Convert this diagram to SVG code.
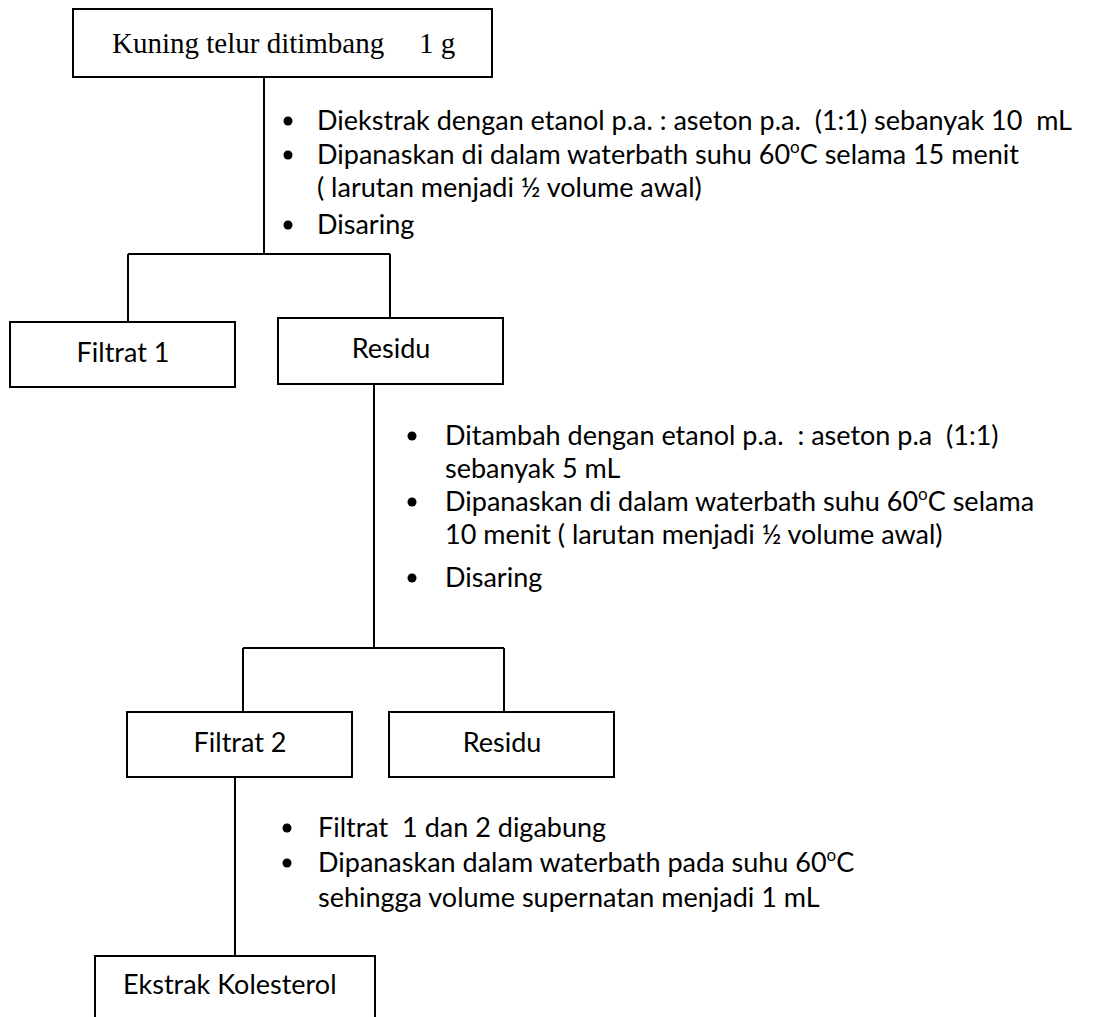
<svg xmlns="http://www.w3.org/2000/svg" width="1098" height="1017" viewBox="0 0 1098 1017">
<style>
.box{fill:#fff;stroke:#000;stroke-width:2}
.ln{fill:none;stroke:#000;stroke-width:2}
.t{font-family:Lato,"Liberation Sans",sans-serif;font-size:27px;fill:#000;white-space:pre}
.tm{font-family:"Liberation Serif","Times New Roman",serif;font-size:29px;fill:#000;white-space:pre}
.dot{fill:#000}
.sup{font-size:17px}
</style>
<rect width="1098" height="1017" fill="#fff"/>
<g id="connectors">
<path class="ln" d="M264,77 V254 M128,254 H390 M128,254 V322 M390,254 V318"/>
<path class="ln" d="M374,384 V648 M243,648 H504 M243,648 V712 M504,648 V712"/>
<path class="ln" d="M235,777 V956"/>
</g>
<g id="n-kuning">
<rect class="box" x="73" y="9" width="419" height="68"/>
<text class="tm" x="112" y="53">Kuning telur ditimbang</text>
<text class="tm" x="419" y="53">1 g</text>
</g>
<g id="step1">
<circle class="dot" cx="288" cy="121" r="4.5"/>
<text class="t" x="317" y="130">Diekstrak dengan etanol p.a. : aseton p.a.  (1:1) sebanyak 10  mL</text>
<circle class="dot" cx="288" cy="155" r="4.5"/>
<text class="t" x="317" y="164">Dipanaskan di dalam waterbath suhu 60<tspan class="sup" dy="-11">o</tspan><tspan dy="11">C selama 15 menit</tspan></text>
<text class="t" x="317" y="197">( larutan menjadi ½ volume awal)</text>
<circle class="dot" cx="288" cy="225" r="4.5"/>
<text class="t" x="317" y="234">Disaring</text>
</g>
<g id="n-filtrat1">
<rect class="box" x="10" y="322" width="225" height="65"/>
<text class="t" x="123" y="362" text-anchor="middle">Filtrat 1</text>
</g>
<g id="n-residu1">
<rect class="box" x="278" y="318" width="225" height="66"/>
<text class="t" x="391" y="358" text-anchor="middle">Residu</text>
</g>
<g id="step2">
<circle class="dot" cx="412" cy="436" r="4.5"/>
<text class="t" x="445" y="445">Ditambah dengan etanol p.a.  : aseton p.a  (1:1)</text>
<text class="t" x="445" y="478">sebanyak 5 mL</text>
<circle class="dot" cx="412" cy="502" r="4.5"/>
<text class="t" x="445" y="511">Dipanaskan di dalam waterbath suhu 60<tspan class="sup" dy="-11">o</tspan><tspan dy="11">C selama</tspan></text>
<text class="t" x="445" y="544">10 menit ( larutan menjadi ½ volume awal)</text>
<circle class="dot" cx="412" cy="578" r="4.5"/>
<text class="t" x="445" y="587">Disaring</text>
</g>
<g id="n-filtrat2">
<rect class="box" x="127" y="712" width="225" height="65"/>
<text class="t" x="240" y="752" text-anchor="middle">Filtrat 2</text>
</g>
<g id="n-residu2">
<rect class="box" x="389" y="712" width="225" height="65"/>
<text class="t" x="502" y="752" text-anchor="middle">Residu</text>
</g>
<g id="step3">
<circle class="dot" cx="287" cy="828" r="4.5"/>
<text class="t" x="318" y="837">Filtrat  1 dan 2 digabung</text>
<circle class="dot" cx="287" cy="863" r="4.5"/>
<text class="t" x="318" y="872">Dipanaskan dalam waterbath pada suhu 60<tspan class="sup" dy="-11">o</tspan><tspan dy="11">C</tspan></text>
<text class="t" x="318" y="907">sehingga volume supernatan menjadi 1 mL</text>
</g>
<g id="n-ekstrak">
<rect class="box" x="95" y="956" width="280" height="80"/>
<text class="t" x="123" y="994">Ekstrak Kolesterol</text>
</g>
</svg>
